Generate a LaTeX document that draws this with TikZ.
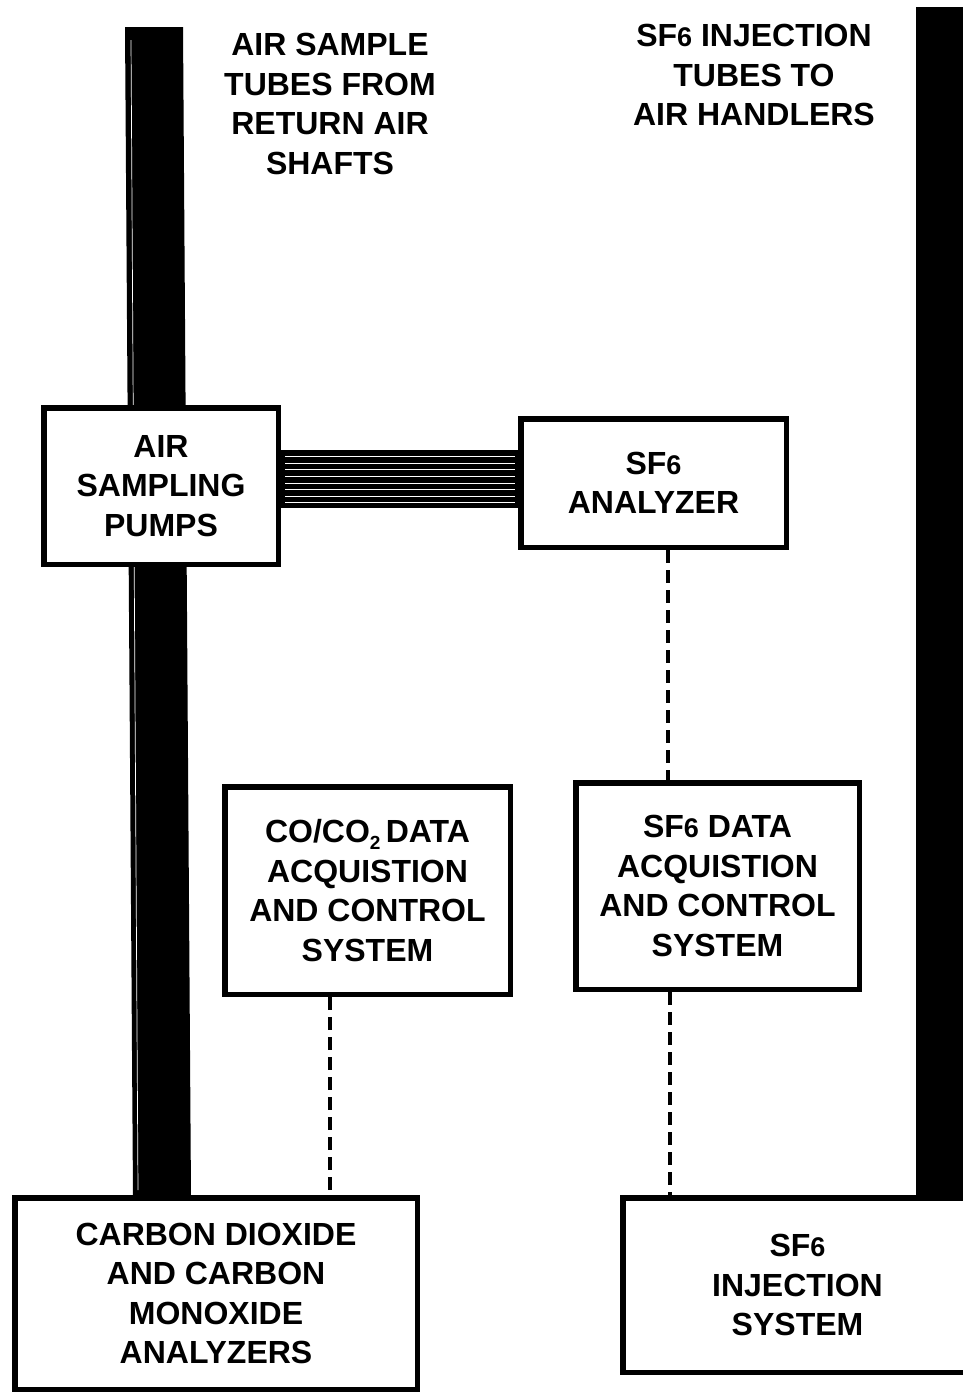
\documentclass[tikz,border=0pt]{standalone}
\usepackage{fontspec}
\setmainfont{Liberation Sans}
\newcommand\diaglbl{\bfseries\fontsize{32}{39.5}\selectfont}
\newcommand\sixsmall{{\fontsize{27}{27}\selectfont 6}}
\newcommand\subtwo{\raisebox{-0.22em}{\fontsize{19}{19}\selectfont 2}}
\begin{document}
\begin{tikzpicture}[x=1pt,y=-1pt,
  box/.style={draw, line width=5.5pt, fill=white, align=center, font=\diaglbl, inner sep=0pt},
  lbl/.style={align=center, font=\diaglbl, inner sep=0pt},
  bar/.style={fill=black, draw=none},
  dashline/.style={line width=3.6pt, dash pattern=on 13pt off 7pt}]
\useasboundingbox (0,0) rectangle (963,1395);
\fill[white] (0,0) rectangle (963,1395);
% vertical tube bundles
\fill[bar] (125,27) -- (183,27) -- (191,1197) -- (133,1197) -- cycle;
\draw[white, line width=0.7pt] (131,40) -- (138,1190);
\fill[bar] (916,7) rectangle (975,1197);
% boxes
\node[box, minimum width=234.5, minimum height=156.5] (pumps) at (161,486) {AIR\\SAMPLING\\PUMPS};
\node[box, minimum width=265.5, minimum height=128.5] (an) at (653.5,483) {SF\sixsmall\\ANALYZER};
\node[box, minimum width=285.5, minimum height=207.5] (cod) at (367.5,890.5) {CO/CO\subtwo\,DATA\\ACQUISTION\\AND CONTROL\\SYSTEM};
\node[box, minimum width=283.5, minimum height=206.5] (sfd) at (717.5,886) {SF\sixsmall\ DATA\\ACQUISTION\\AND CONTROL\\SYSTEM};
\node[box, minimum width=402.5, minimum height=191.5] (cda) at (216,1293.5) {CARBON DIOXIDE\\AND CARBON\\MONOXIDE\\ANALYZERS};
\node[box, minimum width=349.5, minimum height=174.5] (inj) at (797.5,1285) {SF\sixsmall\\INJECTION\\SYSTEM};
% free labels
\node[lbl] (lblair) at (330,104) {AIR SAMPLE\\TUBES FROM\\RETURN AIR\\SHAFTS};
\node[lbl] (lblsf) at (754,75) {SF\sixsmall\ INJECTION\\TUBES TO\\AIR HANDLERS};
% sample tube bundle from pumps to analyzer
\draw[line width=58pt] (pumps.east |- 0,479) -- (an.west |- 0,479);
\foreach \yy in {456,463,469,476,483,489,496,502}
  \draw[white, line width=0.55pt] ([xshift=4pt]pumps.east |- 0,\yy) -- ([xshift=-3pt]an.west |- 0,\yy);
% data links
\draw[dashline] (an.south -| 668,0) -- (sfd.north -| 668,0);
\draw[dashline] (cod.south -| 330,0) -- (cda.north -| 330,0);
\draw[dashline] (sfd.south -| 670,0) -- (inj.north -| 670,0);
\end{tikzpicture}
\end{document}
